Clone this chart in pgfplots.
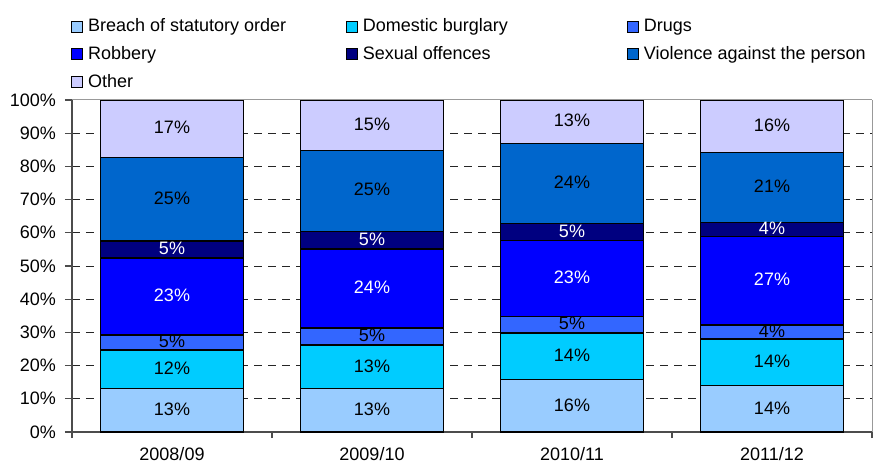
\documentclass[border=0pt]{standalone}
\usepackage{pgfplots}
\pgfplotsset{compat=1.18}
\usepackage{fontspec}
\setmainfont{Liberation Sans}
\definecolor{cBreach}{HTML}{99CCFF}
\definecolor{cDomestic}{HTML}{00CCFF}
\definecolor{cDrugs}{HTML}{3366FF}
\definecolor{cRobbery}{HTML}{0000FF}
\definecolor{cSexual}{HTML}{000080}
\definecolor{cViolence}{HTML}{0066CC}
\definecolor{cOther}{HTML}{CCCCFF}
\pgfplotstableread{
x y lab
0 6.5 13
0 18.85 12
0 26.95 5
0 70.15 25
0 91.4 17
1 6.5 13
1 19.6 13
1 28.75 5
1 72.7 25
1 92.45 15
2 7.85 16
2 22.75 14
2 32.35 5
2 74.85 24
2 93.5 13
3 6.95 14
3 21.05 14
3 30.1 4
3 73.65 21
3 92.15 16
}\blacklabels
\pgfplotstableread{
x y lab
0 40.8 23
0 54.95 5
1 43.2 24
1 57.8 5
2 46.35 23
2 60.25 5
3 45.6 27
3 61.0 4
}\whitelabels
\begin{document}
\fontsize{18bp}{21.5bp}\selectfont
\begin{tikzpicture}
\useasboundingbox (-72bp,-32bp) rectangle (801bp,432bp);
\begin{axis}[
  at={(0,0)}, anchor=south west,
  width=800bp, height=332bp, scale only axis,
  xmin=-0.5, xmax=3.5, ymin=0, ymax=100,
  ybar stacked, bar width=143bp,
  axis lines*=left,
  axis line style={draw=black!70, line width=1.3bp},
  tick align=outside,
  tick style={draw=black!70, line width=1.1bp},
  xtick={0,1,2,3},
  xticklabels={2008/09,2009/10,2010/11,2011/12},
  minor xtick={-0.5,0.5,1.5,2.5,3.5},
  major x tick style={draw=none},
  minor tick length=6bp,
  major tick length=7bp,
  ytick={10,20,...,90},
  extra y ticks={0,100},
  extra y tick style={grid=none},
  yticklabel={\pgfmathprintnumber{\tick}\%},
  /pgf/number format/assume math mode=true,
  yticklabel style={xshift=-3bp},
  xticklabel style={yshift=-2bp},
  ymajorgrids,
  grid style={black!85, dash pattern=on 8bp off 6bp, line width=0.9bp},
  legend columns=3,
  legend cell align=left,
  legend style={draw=none, fill=none, at={(0,1)}, anchor=south west,
    xshift=-4bp, yshift=6bp, row sep=8bp,
    /tikz/every odd column/.append style={column sep=3bp},
    /tikz/every even column/.append style={column sep=8bp}},
  legend image code/.code={\draw[#1, draw=black, line width=0.9bp] (0bp,-5.5bp) rectangle (11bp,5.5bp);},
  every axis plot/.append style={draw=black, line width=1.2bp},
]
\addplot[fill=cBreach] coordinates {(0,13.0) (1,13.0) (2,15.7) (3,13.9)};
\addlegendentry{\makebox[248bp][l]{Breach of statutory order}}
\addplot[fill=cDomestic] coordinates {(0,11.7) (1,13.2) (2,14.1) (3,14.1)};
\addlegendentry{\makebox[254bp][l]{Domestic burglary}}
\addplot[fill=cDrugs] coordinates {(0,4.5) (1,5.1) (2,5.1) (3,4.2)};
\addlegendentry{Drugs}
\addplot[fill=cRobbery] coordinates {(0,23.2) (1,23.8) (2,22.9) (3,26.8)};
\addlegendentry{\makebox[248bp][l]{Robbery}}
\addplot[fill=cSexual] coordinates {(0,5.1) (1,5.4) (2,4.9) (3,4.0)};
\addlegendentry{\makebox[254bp][l]{Sexual offences}}
\addplot[fill=cViolence] coordinates {(0,25.3) (1,24.4) (2,24.3) (3,21.3)};
\addlegendentry{Violence against the person}
\addplot[fill=cOther] coordinates {(0,17.2) (1,15.1) (2,13.0) (3,15.7)};
\addlegendentry{\makebox[248bp][l]{Other}}
\end{axis}
\begin{axis}[
  at={(0,0)}, anchor=south west,
  width=800bp, height=332bp, scale only axis,
  xmin=-0.5, xmax=3.5, ymin=0, ymax=100,
  axis x line*=top, axis y line*=right,
  axis line style={draw=black!40, line width=1bp},
  xtick=\empty, ytick=\empty,
  every node near coord/.append style={anchor=center, yshift=1bp},
]
\addplot[draw=none, mark=none, nodes near coords={\pgfplotspointmeta\%}, point meta=explicit symbolic] table[x=x, y=y, meta=lab] {\blacklabels};
\addplot[draw=none, mark=none, nodes near coords={\pgfplotspointmeta\%}, point meta=explicit symbolic, every node near coord/.append style={text=white}] table[x=x, y=y, meta=lab] {\whitelabels};
\end{axis}
\end{tikzpicture}
\end{document}
